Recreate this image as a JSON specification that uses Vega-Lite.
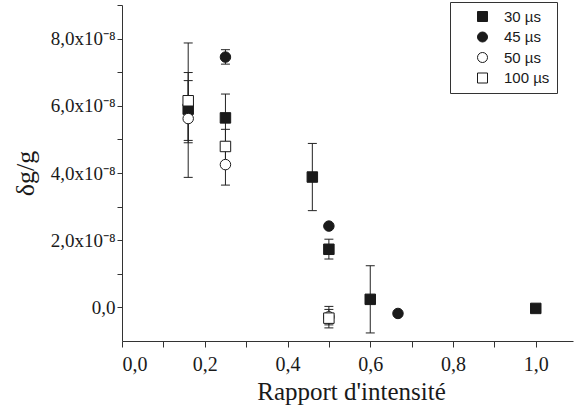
{
  "$schema": "https://vega.github.io/schema/vega-lite/v6.json",
  "autosize": "none",
  "padding": {"left": 122, "top": 5, "right": 1, "bottom": 71},
  "width": 451,
  "height": 336,
  "background": "white",
  "config": {
    "view": {"stroke": null},
    "axis": {
      "labelFont": "Liberation Serif",
      "titleFont": "Liberation Serif",
      "labelFontSize": 19,
      "titleFontSize": 26,
      "titleFontWeight": "normal",
      "labelColor": "#1a1a1a",
      "titleColor": "#1a1a1a",
      "domainColor": "#333333",
      "tickColor": "#333333",
      "tickSize": 5,
      "grid": false
    },
    "legend": {
      "labelFont": "Liberation Sans",
      "labelFontSize": 15,
      "labelColor": "#1a1a1a"
    }
  },
  "data": {
    "values": [
      {"series": "30 µs", "x": 0.16, "y": 5.9e-8, "lo": 3.87e-8, "hi": 7.87e-8},
      {"series": "30 µs", "x": 0.25, "y": 5.64e-8, "lo": 4.93e-8, "hi": 6.35e-8},
      {"series": "30 µs", "x": 0.46, "y": 3.88e-8, "lo": 2.88e-8, "hi": 4.88e-8},
      {"series": "30 µs", "x": 0.5, "y": 1.73e-8, "lo": 1.44e-8, "hi": 2.03e-8},
      {"series": "30 µs", "x": 0.6, "y": 0.24e-8, "lo": -0.76e-8, "hi": 1.24e-8},
      {"series": "30 µs", "x": 1.0, "y": -0.03e-8, "lo": null, "hi": null},
      {"series": "45 µs", "x": 0.25, "y": 7.45e-8, "lo": 7.24e-8, "hi": 7.67e-8},
      {"series": "45 µs", "x": 0.5, "y": 2.42e-8, "lo": null, "hi": null},
      {"series": "45 µs", "x": 0.667, "y": -0.18e-8, "lo": null, "hi": null},
      {"series": "50 µs", "x": 0.16, "y": 5.62e-8, "lo": 4.9e-8, "hi": 6.75e-8},
      {"series": "50 µs", "x": 0.25, "y": 4.25e-8, "lo": 3.64e-8, "hi": 4.86e-8},
      {"series": "50 µs", "x": 0.5, "y": -0.28e-8, "lo": -0.52e-8, "hi": -0.06e-8},
      {"series": "100 µs", "x": 0.16, "y": 6.15e-8, "lo": 4.97e-8, "hi": 6.99e-8},
      {"series": "100 µs", "x": 0.25, "y": 4.79e-8, "lo": 4.28e-8, "hi": 5.3e-8},
      {"series": "100 µs", "x": 0.5, "y": -0.32e-8, "lo": -0.61e-8, "hi": 0.03e-8}
    ]
  },
  "encoding": {
    "x": {
      "field": "x", "type": "quantitative",
      "scale": {"domain": [0, 1.09], "nice": false, "zero": false},
      "axis": {
        "title": "Rapport d'intensité",
        "titleFontSize": 25,
        "values": [0, 0.1, 0.2, 0.3, 0.4, 0.5, 0.6, 0.7, 0.8, 0.9, 1.0],
        "labelExpr": "round(datum.value*10) % 2 == 0 ? replace(format(datum.value, '.1f'), '.', ',') : ''",
        "labelFontSize": 20,
        "tickSize": 6,
        "labelPadding": 7,
        "titleX": 229,
        "titleY": 58,
        "titleBaseline": "alphabetic"
      }
    },
    "y": {
      "field": "y", "type": "quantitative",
      "scale": {"domain": [-1e-8, 9e-8], "nice": false, "zero": false},
      "axis": {
        "title": "δg/g",
        "titleFontSize": 26,
        "values": [0, 1e-8, 2e-8, 3e-8, 4e-8, 5e-8, 6e-8, 7e-8, 8e-8, 9e-8],
        "labelExpr": "round(datum.value*1e8) == 0 ? '0,0' : (round(datum.value*1e8) % 2 == 0 ? replace(format(datum.value*1e8, '.1f'), '.', ',') + 'x10⁻⁸' : '')",
        "labelPadding": 2,
        "titleX": -97,
        "titleY": 168,
        "titleAngle": -90,
        "titleAlign": "center",
        "titleBaseline": "middle"
      }
    }
  },
  "layer": [
    {
      "transform": [{"filter": "isValid(datum.lo)"}],
      "mark": {"type": "rule", "color": "#222222", "strokeWidth": 1},
      "encoding": {"y": {"field": "lo", "type": "quantitative"}, "y2": {"field": "hi"}}
    },
    {
      "transform": [{"filter": "isValid(datum.lo)"}],
      "mark": {"type": "tick", "orient": "horizontal", "color": "#222222", "size": 9, "thickness": 1, "opacity": 1},
      "encoding": {"y": {"field": "lo", "type": "quantitative"}}
    },
    {
      "transform": [{"filter": "isValid(datum.lo)"}],
      "mark": {"type": "tick", "orient": "horizontal", "color": "#222222", "size": 9, "thickness": 1, "opacity": 1},
      "encoding": {"y": {"field": "hi", "type": "quantitative"}}
    },
    {
      "mark": {"type": "point", "filled": false, "strokeWidth": 1, "opacity": 1, "size": 110},
      "encoding": {
        "shape": {
          "field": "series", "type": "nominal",
          "scale": {"domain": ["30 µs", "45 µs", "50 µs", "100 µs"], "range": ["square", "circle", "circle", "square"]},
          "legend": {
            "title": null,
            "orient": "none",
            "legendX": 328,
            "legendY": -3,
            "strokeColor": "#333333",
            "padding": 7,
            "symbolOffset": 18,
            "labelOffset": 14,
            "symbolSize": 100,
            "symbolStrokeWidth": 1,
            "rowPadding": 4.5,
            "symbolOpacity": 1
          }
        },
        "fill": {
          "field": "series", "type": "nominal",
          "scale": {"domain": ["30 µs", "45 µs", "50 µs", "100 µs"], "range": ["#1a1a1a", "#1a1a1a", "#ffffff", "#ffffff"]},
          "legend": {"title": null}
        },
        "stroke": {
          "field": "series", "type": "nominal",
          "scale": {"domain": ["30 µs", "45 µs", "50 µs", "100 µs"], "range": ["#1a1a1a", "#1a1a1a", "#1a1a1a", "#1a1a1a"]},
          "legend": {"title": null}
        }
      }
    }
  ]
}
